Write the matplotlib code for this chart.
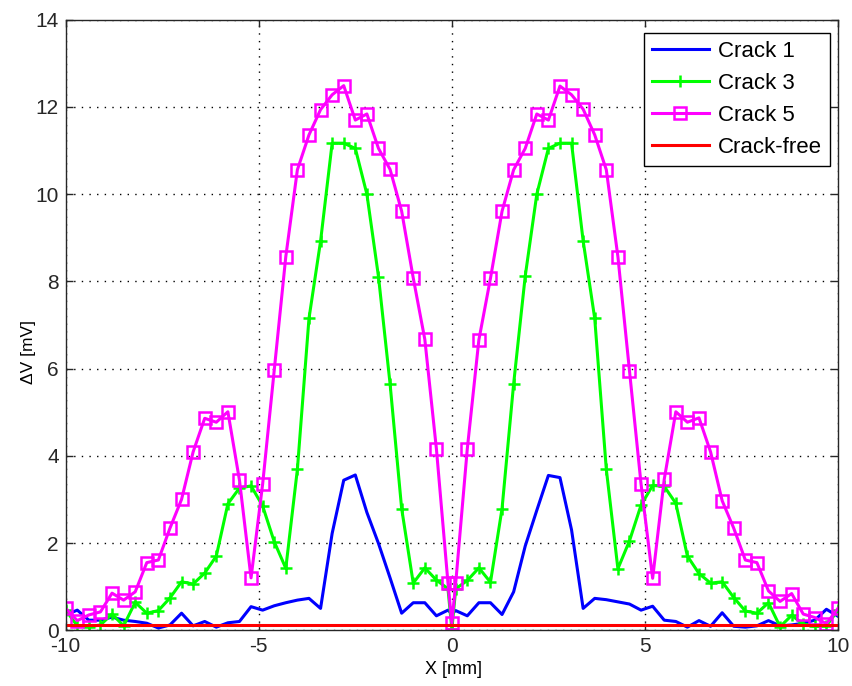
import matplotlib
matplotlib.use("Agg")
import matplotlib.pyplot as plt

plt.rcParams['font.family'] = ['Liberation Sans', 'DejaVu Sans']
plt.rcParams['axes.unicode_minus'] = False

x_mm = [-10.0, -9.7, -9.4, -9.1, -8.8, -8.5, -8.2, -7.9, -7.6, -7.3, -7.0, -6.7,
        -6.4, -6.1, -5.8, -5.5, -5.2, -4.9, -4.6, -4.3, -4.0, -3.7, -3.4, -3.1,
        -2.8, -2.5, -2.2, -1.9, -1.6, -1.3, -1.0, -0.7, -0.4, -0.1, 0.0,
        0.1, 0.4, 0.7, 1.0, 1.3, 1.6, 1.9, 2.2, 2.5, 2.8, 3.1, 3.4, 3.7, 4.0,
        4.3, 4.6, 4.9, 5.2, 5.5, 5.8, 6.1, 6.4, 6.7, 7.0, 7.3, 7.6, 7.9, 8.2,
        8.5, 8.8, 9.1, 9.4, 9.7, 10.0]

crack1 = [0.35, 0.46, 0.23, 0.23, 0.30, 0.23, 0.20, 0.16, 0.05, 0.12, 0.39, 0.10,
          0.20, 0.07, 0.17, 0.20, 0.54, 0.46, 0.56, 0.63, 0.69, 0.73, 0.50, 2.22,
          3.44, 3.56, 2.70, 1.99, 1.20, 0.39, 0.63, 0.63, 0.33, 0.46, 0.38,
          0.45, 0.33, 0.63, 0.63, 0.36, 0.88, 1.93, 2.75, 3.55, 3.50, 2.30, 0.50,
          0.73, 0.70, 0.65, 0.60, 0.46, 0.55, 0.23, 0.20, 0.07, 0.22, 0.09, 0.40,
          0.09, 0.07, 0.10, 0.22, 0.10, 0.12, 0.16, 0.23, 0.48, 0.32]

crack3 = [0.46, 0.10, 0.08, 0.12, 0.37, 0.10, 0.64, 0.39, 0.45, 0.74, 1.11, 1.06,
          1.31, 1.70, 2.90, 3.26, 3.31, 2.85, 2.03, 1.42, 3.69, 7.15, 8.92, 11.17,
          11.17, 11.05, 10.00, 8.11, 5.65, 2.79, 1.08, 1.43, 1.15, 0.95, 0.02,
          0.95, 1.14, 1.43, 1.10, 2.79, 5.65, 8.12, 10.00, 11.05, 11.17, 11.17,
          8.93, 7.15, 3.69, 1.41, 2.05, 2.87, 3.32, 3.30, 2.91, 1.70, 1.30, 1.08,
          1.11, 0.75, 0.44, 0.39, 0.63, 0.08, 0.34, 0.14, 0.09, 0.10, 0.46]

crack5 = [0.50, 0.22, 0.35, 0.42, 0.85, 0.69, 0.88, 1.55, 1.61, 2.34, 3.00, 4.09,
          4.86, 4.77, 5.01, 3.44, 1.20, 3.35, 5.96, 8.57, 10.56, 11.36, 11.94,
          12.28, 12.49, 11.70, 11.84, 11.05, 10.57, 9.61, 8.08, 6.67, 4.16, 1.08,
          0.16, 1.08, 4.16, 6.66, 8.07, 9.61, 10.56, 11.05, 11.84, 11.70, 12.48,
          12.28, 11.95, 11.36, 10.56, 8.57, 5.95, 3.35, 1.19, 3.46, 5.01, 4.77,
          4.87, 4.09, 2.97, 2.34, 1.61, 1.55, 0.90, 0.66, 0.84, 0.37, 0.29, 0.15,
          0.50]

crack_free_level = 0.13
crack_free = [crack_free_level] * len(x_mm)

series_labels = ['Crack 1', 'Crack 3', 'Crack 5', 'Crack-free']
x_ticks = [-10, -5, 0, 5, 10]
y_ticks = [0, 2, 4, 6, 8, 10, 12, 14]

W, H = 853, 686
fig = plt.figure(figsize=(W / 100, H / 100), dpi=100)
left, right, top, bottom = 65.7, 838.0, 19.8, 630.2
ax = fig.add_axes([left / W, 1 - bottom / H, (right - left) / W, (bottom - top) / H])

lw = 2.2
ax.plot(x_mm, crack1, color='#0000ff', lw=lw, label=series_labels[0])
ax.plot(x_mm, crack3, color='#00ff00', lw=lw, marker='+', markersize=9,
        markeredgewidth=1.8, label=series_labels[1])
ax.plot(x_mm, crack5, color='#ff00ff', lw=lw, marker='s', markersize=8.5,
        markerfacecolor='none', markeredgewidth=1.8, label=series_labels[2])
ax.plot(x_mm, crack_free, color='#ff0000', lw=lw, label=series_labels[3])

ax.set_xlim(-10, 10)
ax.set_ylim(0, 14)
ax.set_xticks(x_ticks)
ax.set_yticks(y_ticks)
ax.grid(True, color='black', linestyle=(0, (1, 4.5)), linewidth=1.0)
ax.set_axisbelow(True)
ax.tick_params(direction='in', top=True, right=True, length=5, width=1,
               labelsize=15, pad=5, colors='#262626')
for sp in ax.spines.values():
    sp.set_linewidth(1.0)
    sp.set_color('#262626')

ax.set_xlabel('X [mm]', fontsize=13, va='center')
ax.xaxis.set_label_coords((454 - left) / (right - left), -(669 - bottom) / (bottom - top))
ax.set_ylabel('ΔV [mV]', fontsize=12.5, va='center')
ax.yaxis.set_label_coords(-(left - 28) / (right - left), 1 - (352 - top) / (bottom - top))

leg_x = (830 - left) / (right - left)
leg_y = 1 - (33 - top) / (bottom - top)
leg = ax.legend(loc='upper right', bbox_to_anchor=(leg_x, leg_y), fontsize=16,
                fancybox=False, framealpha=1, edgecolor='black', handlelength=2.6,
                borderaxespad=0.0, labelspacing=0.5, borderpad=0.35,
                handletextpad=0.4)
leg.get_frame().set_linewidth(1.0)

fig.savefig('out.png', dpi=100, facecolor='white')
